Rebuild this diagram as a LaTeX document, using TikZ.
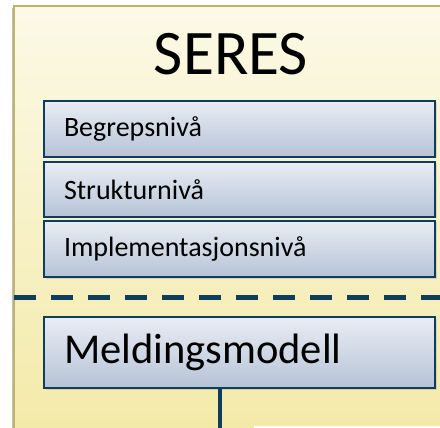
\documentclass[tikz,border=0pt]{standalone}
\usepackage{fontspec}
\setmainfont{Carlito}
\usetikzlibrary{shadows}
\definecolor{panelborder}{HTML}{BDB56A}
\definecolor{paneltop}{HTML}{FCF9E7}
\definecolor{panelbot}{HTML}{F3EAA8}
\definecolor{boxtop}{HTML}{E9EDF4}
\definecolor{boxbot}{HTML}{B6C3D6}
\definecolor{boxline}{HTML}{0E3D5E}
\tikzset{
  levelbox/.style={draw=boxline, line width=1.8pt, top color=boxtop, bottom color=boxbot,
    minimum width=391pt, text width=351pt, inner xsep=20pt, align=left,
    drop shadow={shadow xshift=1.5pt, shadow yshift=-1.5pt, opacity=0.25}},
  connline/.style={draw=boxline, line width=4pt},
}
\begin{document}
\begin{tikzpicture}[x=1pt,y=-1pt]
\useasboundingbox (0,0) rectangle (440,428);
\fill[black!25] (12,8) rectangle (446,434);
\shade[top color=paneltop, bottom color=panelbot, draw=panelborder, line width=1.8pt] (14,6) rectangle (446,434);
\node[levelbox, minimum height=56pt, font=\fontsize{28}{30}\selectfont] (beg) at (239.5,129) {Begrepsnivå};
\node[levelbox, minimum height=55pt, font=\fontsize{28}{30}\selectfont] (struk) at (239.5,189.5) {Strukturnivå};
\node[levelbox, minimum height=56pt, font=\fontsize{28}{30}\selectfont] (impl) at (239.5,249) {Implementasjonsnivå};
\node[levelbox, minimum height=71pt, font=\fontsize{42.5}{44}\selectfont] (meld) at (239.5,352.5) {Meldingsmodell};
\node[font=\fontsize{63.5}{66}\selectfont, inner sep=0pt] (title) at (231,54) {SERES};
\coordinate (dl) at (14,297);
\coordinate (dr) at (446,297);
\draw[boxline, line width=5pt, dash pattern=on 22pt off 15pt] (dl) -- (dr);
\coordinate (lineend) at (220,432);
\draw[connline] (meld.south -| lineend) -- (lineend);
\fill[white] (254,426) rectangle (441,429);
\end{tikzpicture}
\end{document}
